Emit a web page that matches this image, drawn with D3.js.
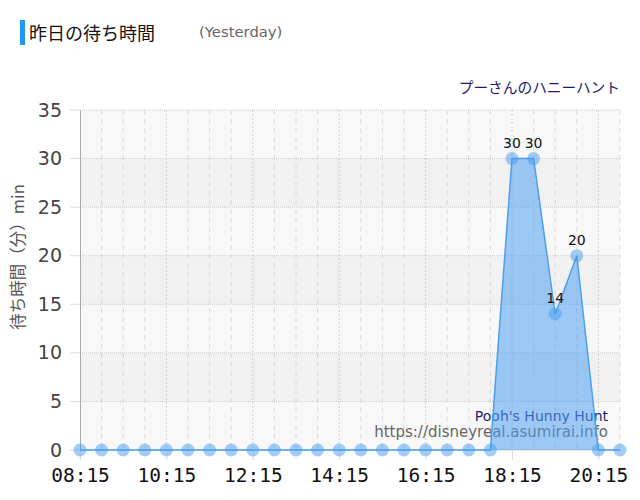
<!DOCTYPE html>
<html>
<head>
<meta charset="utf-8">
<script src="https://cdn.jsdelivr.net/npm/d3@7"></script>
<style>
html,body{margin:0;padding:0;background:#fff;}
svg{display:block;}
</style>
</head>
<body>
<svg id="chart" width="640" height="500"></svg>
<script>
const times = ["08:15","08:45","09:15","09:45","10:15","10:45","11:15","11:45","12:15","12:45","13:15","13:45","14:15","14:45","15:15","15:45","16:15","16:45","17:15","17:45","18:15","18:45","19:15","19:45","20:15","20:45"];
const waits = [0,0,0,0,0,0,0,0,0,0,0,0,0,0,0,0,0,0,0,0,30,30,14,20,0,0];
const xTickLabels = ["08:15","10:15","12:15","14:15","16:15","18:15","20:15"];
const yTicks = [0,5,10,15,20,25,30,35];
const titleText = "昨日の待ち時間";
const subTitle = "(Yesterday)";
const attractionJa = "プーさんのハニーハント";
const attractionEn = "Pooh's Hunny Hunt";
const siteUrl = "https://disneyreal.asumirai.info";
const yLabel = "待ち時間（分）min";

(function () {
const svg = d3.select("#chart");
const pl = 80, pr = 620, pt = 110, pb = 450;
const parse = d3.timeParse("%H:%M");
const x = d3.scaleTime().domain([parse("08:15"), parse("20:45")]).range([pl, pr]);
const y = d3.scaleLinear().domain([0, 35]).range([pb, pt]);

const data = times.map((t, i) => ({t: parse(t), v: waits[i]}));

// Title
svg.append("rect").attr("x", 20).attr("y", 20).attr("width", 5).attr("height", 25).attr("fill", "#2196f3");
svg.append("text").attr("x", 29).attr("y", 40).text(titleText)
  .attr("font-family", "'Noto Sans CJK JP', sans-serif").attr("font-size", 18).attr("fill", "#111");
svg.append("text").attr("x", 199).attr("y", 37).text(subTitle)
  .attr("font-family", "'DejaVu Sans', Verdana, sans-serif").attr("font-size", 14.8).attr("fill", "#666");

svg.append("text").attr("x", 620).attr("y", 93).attr("text-anchor", "end").text(attractionJa)
  .attr("font-family", "'Noto Sans CJK JP', sans-serif").attr("font-size", 14.7).attr("fill", "#1d1d6b");

// Bands
const g = svg.append("g");
for (let i = 0; i < yTicks.length - 1; i++) {
  g.append("rect")
    .attr("x", pl).attr("width", pr - pl)
    .attr("y", y(yTicks[i + 1])).attr("height", y(yTicks[i]) - y(yTicks[i + 1]))
    .attr("fill", (yTicks.length - 2 - i) % 2 === 0 ? "#f8f8f8" : "#f1f1f1");
}

// Vertical grid (every 30 min)
data.forEach((d, i) => {
  const major = xTickLabels.includes(times[i]);
  if (i === 0) return;
  g.append("line")
    .attr("x1", x(d.t)).attr("x2", x(d.t)).attr("y1", pt).attr("y2", pb)
    .attr("stroke", major ? "#d0d0d0" : "#dcdcdc")
    .attr("stroke-width", 1)
    .attr("stroke-dasharray", major ? "2,2" : "5,4");
});

// Horizontal grid
yTicks.forEach(t => {
  g.append("line")
    .attr("x1", pl).attr("x2", pr).attr("y1", y(t)).attr("y2", y(t))
    .attr("stroke", "#ccc").attr("stroke-dasharray", t === 0 ? null : "1,1");
});
yTicks.forEach(t => {
  g.append("line").attr("x1", pl - 10).attr("x2", pl).attr("y1", y(t)).attr("y2", y(t)).attr("stroke", "#ddd");
});

// Y axis
const yAxis = d3.axisLeft(y).tickValues(yTicks).tickSize(0).tickPadding(18);
const ya = svg.append("g").attr("transform", `translate(${pl},0)`).call(yAxis);
ya.select(".domain").attr("stroke", "#aaa");
ya.selectAll("text").attr("font-family", "'DejaVu Sans', Verdana, sans-serif").attr("font-size", 19).attr("fill", "#444");

// X axis
const xAxis = d3.axisBottom(x).tickValues(xTickLabels.map(parse)).tickFormat(d3.timeFormat("%H:%M")).tickSize(10).tickPadding(8);
const xa = svg.append("g").attr("transform", `translate(0,${pb})`).call(xAxis);
xa.select(".domain").remove();
xa.selectAll(".tick line").attr("stroke", "#ddd");
xa.selectAll("text").attr("font-family", "'DejaVu Sans Mono', monospace").attr("font-size", 19.5).attr("fill", "#111");

// Y label
svg.append("text")
  .attr("transform", `translate(24,257) rotate(-90)`)
  .attr("text-anchor", "middle")
  .text(yLabel)
  .attr("font-family", "'Noto Sans CJK JP', sans-serif").attr("font-size", 16.5).attr("fill", "#555");

// Watermark
svg.append("text").attr("x", 608).attr("y", 421).attr("text-anchor", "end").text(attractionEn)
  .attr("font-family", "'DejaVu Sans', Verdana, sans-serif").attr("font-size", 14).attr("fill", "#1d1d6b");
svg.append("text").attr("x", 608).attr("y", 437).attr("text-anchor", "end").text(siteUrl)
  .attr("font-family", "'DejaVu Sans', Verdana, sans-serif").attr("font-size", 15).attr("fill", "#666");

// Area and line
const area = d3.area().x(d => x(d.t)).y0(y(0)).y1(d => y(d.v));
const line = d3.line().x(d => x(d.t)).y(d => y(d.v));
svg.append("path").datum(data).attr("d", area).attr("fill", "rgba(80,160,242,0.55)");
svg.append("path").datum(data).attr("d", line).attr("fill", "none").attr("stroke", "#4d9ff0").attr("stroke-width", 1.5);

// Points
svg.append("g").selectAll("circle").data(data).join("circle")
  .attr("cx", d => x(d.t)).attr("cy", d => y(d.v)).attr("r", 6.5)
  .attr("fill", "rgba(70,155,240,0.5)");

// Value labels
svg.append("g").selectAll("text").data(data.filter(d => d.v > 0)).join("text")
  .attr("x", d => x(d.t)).attr("y", d => y(d.v) - 11)
  .attr("text-anchor", "middle").text(d => d.v)
  .attr("font-family", "'DejaVu Sans', Verdana, sans-serif").attr("font-size", 14).attr("fill", "#111");
})();
</script>
</body>
</html>
